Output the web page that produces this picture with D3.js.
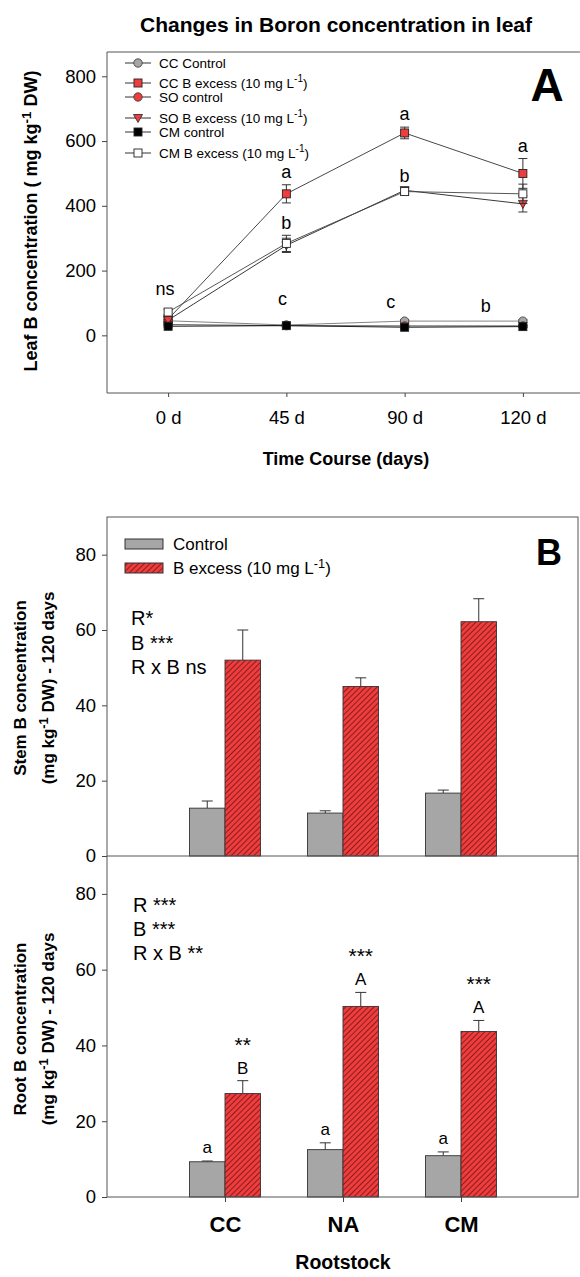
<!DOCTYPE html>
<html>
<head>
<meta charset="utf-8">
<script src="https://cdn.jsdelivr.net/npm/d3@7"></script>
<style>
  body { margin: 0; background: #fff; }
  svg { font-family: Arial, "Liberation Sans", sans-serif; }
  .axis text { font-size: 18.5px; fill: #000; }
  .axis line { stroke: #444; }
  .axis path { display: none; }
</style>
</head>
<body>
<svg id="chart" width="580" height="1277"></svg>
<script>
// panel A - leaf B over time
const days = ['0 d', '45 d', '90 d', '120 d']
const ccControl = [45, 32, 44, 44]
const ccControlErr = [4, 3, 4, 4]
const ccExcess = [50, 437, 625, 500]
const ccExcessErr = [8, 28, 18, 46]
const soControl = [33, 30, 29, 29]
const soControlErr = [3, 3, 3, 3]
const soExcess = [47, 278, 448, 406]
const soExcessErr = [6, 22, 10, 25]
const cmControl = [28, 30, 25, 27]
const cmControlErr = [3, 3, 3, 3]
const cmExcess = [72, 284, 444, 437]
const cmExcessErr = [8, 25, 10, 30]
const leafTicks = [0, 200, 400, 600, 800]
const ccLetters = ['', 'a', 'a', 'a']
const cmLetters = ['', 'b', 'b', '']
const ctrlLetters = ['ns', 'c', 'c', 'b']
const ctrlLetterLevel = [125, 94, 84, 72]

// panel B - stem and root B at 120 days
const rootstocks = ['CC', 'NA', 'CM']
const stemControl = [12.7, 11.4, 16.7]
const stemControlErr = [1.9, 0.6, 0.8]
const stemExcess = [52, 45, 62.2]
const stemExcessErr = [8, 2.3, 6.1]
const rootControl = [9.3, 12.5, 10.9]
const rootControlErr = [0.2, 1.8, 1.0]
const rootExcess = [27.3, 50.3, 43.7]
const rootExcessErr = [3.4, 3.7, 2.9]
const rootControlLetters = ['a', 'a', 'a']
const rootExcessLetters = ['B', 'A', 'A']
const rootStars = ['**', '***', '***']
const barTicks = [0, 20, 40, 60, 80]

const RED = '#f03c3c'
const GRAY = '#a6a6a6'

function sup(sel, before, after) {
    sel.append('tspan').text(before)
    sel.append('tspan').attr('dy', -6).attr('font-size', '0.75em').text('-1')
    sel.append('tspan').attr('dy', 6).text(after)
}

function main() {
    let svg = d3.select('#chart')

    let defs = svg.append('defs')
    let pat = defs.append('pattern')
        .attr('id', 'hatch')
        .attr('patternUnits', 'userSpaceOnUse')
        .attr('width', 4).attr('height', 4)
        .attr('patternTransform', 'rotate(45)')
    pat.append('rect').attr('width', 4).attr('height', 4).attr('fill', RED)
    pat.append('line').attr('x1', 0).attr('y1', 0).attr('x2', 0).attr('y2', 4)
        .attr('stroke', '#2a0808').attr('stroke-width', 1.1)

    // ---------- panel A ----------
    let left = 107, right = 580, top = 52, bottom = 393
    let x = d3.scalePoint().domain(days).range([109, 582]).padding(0.5)
    let y = d3.scaleLinear().domain([-178, 875]).range([bottom, top])

    svg.append('text')
        .attr('x', 336).attr('y', 32)
        .attr('text-anchor', 'middle')
        .attr('font-size', 21).attr('font-weight', 'bold')
        .text('Changes in Boron concentration in leaf')

    svg.append('path')
        .attr('d', `M${right},${top}H${left}V${bottom}H${right}`)
        .attr('fill', 'none').attr('stroke', '#555')

    svg.append('g').attr('class', 'axis')
        .attr('transform', `translate(${left},0)`)
        .call(d3.axisLeft(y).tickValues(leafTicks).tickSize(5).tickPadding(6))
    svg.append('g').attr('class', 'axis')
        .attr('transform', `translate(0,${bottom})`)
        .call(d3.axisBottom(x).tickSize(4).tickPadding(14))

    svg.append('text')
        .attr('transform', `translate(37,221) rotate(-90)`)
        .attr('text-anchor', 'middle')
        .attr('font-size', 18).attr('font-weight', 'bold')
        .call(sup, 'Leaf B concentration ( mg kg', ' DW)')

    svg.append('text')
        .attr('x', 346).attr('y', 465)
        .attr('text-anchor', 'middle')
        .attr('font-size', 18).attr('font-weight', 'bold')
        .text('Time Course (days)')

    svg.append('text')
        .attr('x', 547).attr('y', 101)
        .attr('text-anchor', 'middle')
        .attr('font-size', 46).attr('font-weight', 'bold')
        .text('A')

    let series = [
        {name: 'CC Control', vals: ccControl, err: ccControlErr, shape: 'circle', fill: GRAY, line: '#777'},
        {name: 'CC B excess (10 mg L', vals: ccExcess, err: ccExcessErr, shape: 'square', fill: RED, line: '#333', s: true},
        {name: 'SO control', vals: soControl, err: soControlErr, shape: 'circle', fill: RED, line: '#333'},
        {name: 'SO B excess  (10 mg L', vals: soExcess, err: soExcessErr, shape: 'tri', fill: RED, line: '#222', s: true},
        {name: 'CM control', vals: cmControl, err: cmControlErr, shape: 'square', fill: '#000', line: '#111'},
        {name: 'CM B excess (10 mg L', vals: cmExcess, err: cmExcessErr, shape: 'square', fill: '#fff', line: '#444', s: true},
    ]

    function marker(g, s, cx, cy) {
        if (s.shape === 'circle') {
            g.append('circle').attr('cx', cx).attr('cy', cy).attr('r', 4.2)
                .attr('fill', s.fill).attr('stroke', '#333').attr('stroke-width', 0.8)
        } else if (s.shape === 'square') {
            g.append('rect').attr('x', cx - 4).attr('y', cy - 4).attr('width', 8).attr('height', 8)
                .attr('fill', s.fill).attr('stroke', '#222').attr('stroke-width', 0.9)
        } else {
            g.append('path').attr('d', `M${cx - 4.5},${cy - 3.5}L${cx + 4.5},${cy - 3.5}L${cx},${cy + 4.5}Z`)
                .attr('fill', s.fill).attr('stroke', '#222').attr('stroke-width', 0.8)
        }
    }

    series.forEach(s => {
        let g = svg.append('g')
        g.append('path')
            .datum(s.vals)
            .attr('fill', 'none').attr('stroke', s.line).attr('stroke-width', 0.9)
            .attr('d', d3.line().x((d, i) => x(days[i])).y(d => y(d)))
        s.vals.forEach((v, i) => {
            let cx = x(days[i])
            g.append('path')
                .attr('d', `M${cx},${y(v - s.err[i])}V${y(v + s.err[i])}M${cx - 4.5},${y(v + s.err[i])}H${cx + 4.5}M${cx - 4.5},${y(v - s.err[i])}H${cx + 4.5}`)
                .attr('stroke', '#333').attr('fill', 'none')
        })
        s.vals.forEach((v, i) => marker(g, s, x(days[i]), y(v)))
    })

    // legend
    let legY = [63, 83, 97, 118, 132, 153]
    series.forEach((s, i) => {
        let g = svg.append('g')
        g.append('line').attr('x1', 125).attr('x2', 151).attr('y1', legY[i]).attr('y2', legY[i])
            .attr('stroke', '#333')
        marker(g, s, 138, legY[i])
        let t = g.append('text').attr('x', 159).attr('y', legY[i] + 4.5).attr('font-size', 13.5)
        if (s.s) t.call(sup, s.name, ')')
        else t.text(s.name)
    })

    // significance letters, panel A
    days.forEach((d, i) => {
        svg.append('text').attr('x', x(d)).attr('y', y(ccExcess[i] + ccExcessErr[i]) - 7)
            .attr('text-anchor', 'middle').attr('font-size', 18).text(ccLetters[i])
        svg.append('text').attr('x', x(d)).attr('y', y(cmExcess[i] + cmExcessErr[i]) - 6)
            .attr('text-anchor', 'middle').attr('font-size', 18).text(cmLetters[i])
    })
    let ctrlShift = [-3, -4, -14, -37]
    days.forEach((d, i) => {
        svg.append('text').attr('x', x(d) + ctrlShift[i]).attr('y', y(ctrlLetterLevel[i]))
            .attr('text-anchor', 'middle').attr('font-size', 18).text(ctrlLetters[i])
    })

    // ---------- panel B ----------
    let bLeft = 107, bRight = 578
    let xb = d3.scalePoint().domain(rootstocks).range([bLeft, 579]).padding(1)
    let inner = d3.scaleBand().domain(['control', 'excess']).range([-35.5, 35.5])

    let panels = [
        {top: 517, bottom: 856, ctrl: stemControl, ctrlErr: stemControlErr, exc: stemExcess, excErr: stemExcessErr,
         title: 'Stem B concentration', cy: 688},
        {top: 856, bottom: 1197, ctrl: rootControl, ctrlErr: rootControlErr, exc: rootExcess, excErr: rootExcessErr,
         title: 'Root B concentration', cy: 1029},
    ]

    panels.forEach(p => {
        let yb = d3.scaleLinear().domain([0, 90]).range([p.bottom, p.top])
        p.y = yb

        svg.append('g').attr('class', 'axis')
            .attr('transform', `translate(${bLeft},0)`)
            .call(d3.axisLeft(yb).tickValues(barTicks).tickSize(5).tickPadding(6))

        rootstocks.forEach((r, i) => {
            let cx = xb(r)
            let g = svg.append('g')
            // error bars (upper only)
            g.append('path')
                .attr('d', `M${cx + inner('control') + 17.75},${yb(p.ctrl[i])}V${yb(p.ctrl[i] + p.ctrlErr[i])}m-5.5,0h11`)
                .attr('stroke', '#333').attr('fill', 'none')
            g.append('path')
                .attr('d', `M${cx + inner('excess') + 17.75},${yb(p.exc[i])}V${yb(p.exc[i] + p.excErr[i])}m-5.5,0h11`)
                .attr('stroke', '#333').attr('fill', 'none')
            g.append('rect')
                .attr('x', cx + inner('control')).attr('width', inner.bandwidth())
                .attr('y', yb(p.ctrl[i])).attr('height', yb(0) - yb(p.ctrl[i]))
                .attr('fill', GRAY).attr('stroke', '#333').attr('stroke-width', 0.9)
            g.append('rect')
                .attr('x', cx + inner('excess')).attr('width', inner.bandwidth())
                .attr('y', yb(p.exc[i])).attr('height', yb(0) - yb(p.exc[i]))
                .attr('fill', 'url(#hatch)').attr('stroke', '#333').attr('stroke-width', 0.9)
        })

        let t = svg.append('text')
            .attr('transform', `translate(0,${p.cy}) rotate(-90)`)
            .attr('text-anchor', 'middle')
            .attr('font-size', 17).attr('font-weight', 'bold')
        t.append('tspan').attr('x', 0).attr('y', 26).text(p.title)
        t.append('tspan').attr('x', 0).attr('y', 54).text('(mg kg')
        t.append('tspan').attr('dy', -6).attr('font-size', '0.75em').text('-1')
        t.append('tspan').attr('dy', 6).text(' DW) - 120 days')
    })

    // frame
    svg.append('rect').attr('x', bLeft).attr('y', 517).attr('width', bRight - bLeft).attr('height', 1197 - 517)
        .attr('fill', 'none').attr('stroke', '#555')
    svg.append('line').attr('x1', bLeft).attr('x2', bRight).attr('y1', 856).attr('y2', 856).attr('stroke', '#555')

    svg.append('g').attr('class', 'axis')
        .attr('transform', 'translate(0,1197)')
        .call(d3.axisBottom(xb).tickSize(5).tickPadding(14))
        .selectAll('text').attr('font-weight', 'bold').style('font-size', '22px')

    svg.append('text')
        .attr('x', 343).attr('y', 1269)
        .attr('text-anchor', 'middle')
        .attr('font-size', 19.5).attr('font-weight', 'bold')
        .text('Rootstock')

    svg.append('text')
        .attr('x', 549).attr('y', 565)
        .attr('text-anchor', 'middle')
        .attr('font-size', 36).attr('font-weight', 'bold')
        .text('B')

    // legend panel B
    svg.append('rect').attr('x', 125).attr('y', 539).attr('width', 38).attr('height', 10)
        .attr('fill', GRAY).attr('stroke', '#333')
    svg.append('rect').attr('x', 125).attr('y', 563).attr('width', 38).attr('height', 10)
        .attr('fill', 'url(#hatch)').attr('stroke', '#333')
    svg.append('text').attr('x', 173).attr('y', 550).attr('font-size', 17).text('Control')
    svg.append('text').attr('x', 173).attr('y', 574).attr('font-size', 17)
        .call(sup, 'B excess (10 mg L', ')')

    // ANOVA notes
    let stemNotes = ['R*', 'B ***', 'R x B ns']
    let rootNotes = ['R ***', 'B ***', 'R x B **']
    stemNotes.forEach((n, i) => {
        svg.append('text').attr('x', 131).attr('y', 625 + i * 24.5).attr('font-size', 20).text(n)
    })
    rootNotes.forEach((n, i) => {
        svg.append('text').attr('x', 133).attr('y', 912 + i * 24).attr('font-size', 20).text(n)
    })

    // root letters
    let yr = panels[1].y
    rootstocks.forEach((r, i) => {
        let cx = xb(r)
        svg.append('text').attr('x', cx + inner('control') + 17.75)
            .attr('y', yr(rootControl[i] + rootControlErr[i]) - 8)
            .attr('text-anchor', 'middle').attr('font-size', 17).text(rootControlLetters[i])
        let ly = yr(rootExcess[i] + rootExcessErr[i]) - 7
        svg.append('text').attr('x', cx + inner('excess') + 17.75).attr('y', ly)
            .attr('text-anchor', 'middle').attr('font-size', 17).text(rootExcessLetters[i])
        svg.append('text').attr('x', cx + inner('excess') + 17.75).attr('y', ly - 22)
            .attr('text-anchor', 'middle').attr('font-size', 21).text(rootStars[i])
    })
}

main()
</script>
</body>
</html>
